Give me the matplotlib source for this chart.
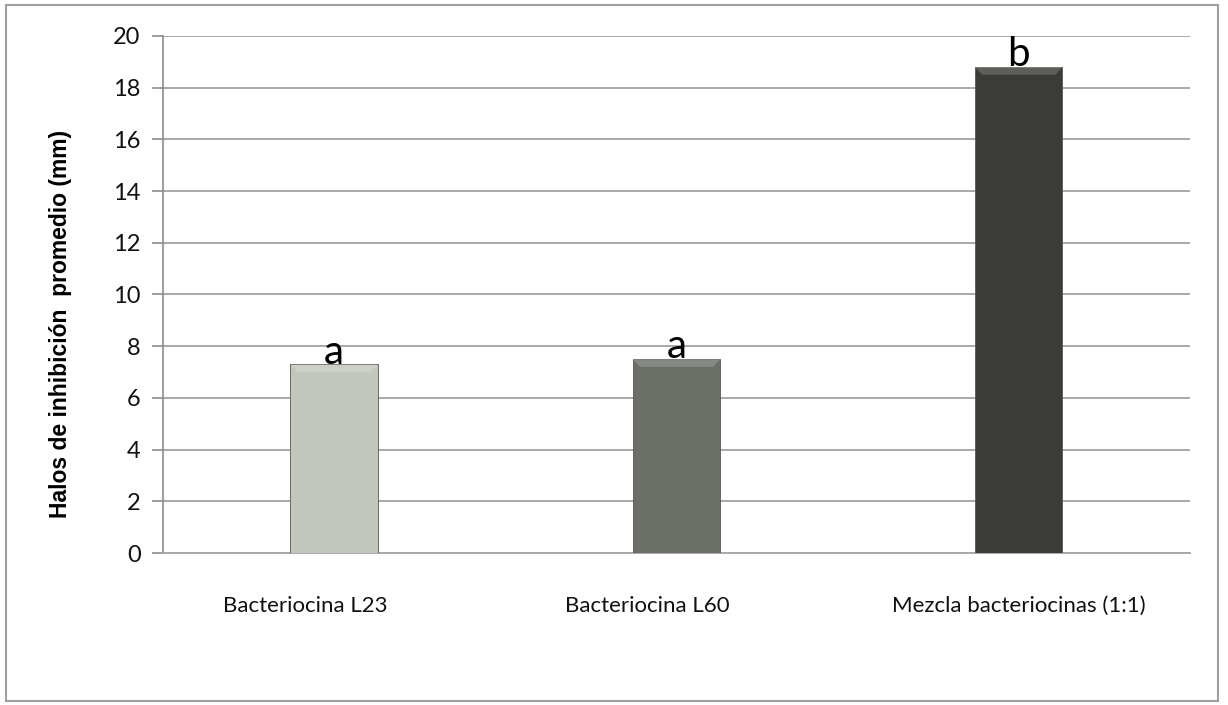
import matplotlib.pyplot as plt
from matplotlib.patches import Rectangle, Polygon
from matplotlib.transforms import ScaledTranslation

categories = ["Bacteriocina L23", "Bacteriocina L60", "Mezcla bacteriocinas (1:1)"]
halos = [7.3, 7.5, 18.8]
letters = ["a", "a", "b"]
bar_colors = ["#c3c6bc", "#6c6f68", "#3b3c38"]
yticks = list(range(0, 21, 2))

fig = plt.figure(figsize=(12.28, 7.05), dpi=100)
ax = fig.add_axes([0.1327, 0.2156, 0.8363, 0.7334])

x = list(range(len(categories)))
width = 0.255
bars = ax.bar(x, halos, width=width, color=bar_colors, edgecolor="#55574f",
              linewidth=0.6, zorder=3)

# soft bevel along the top of each bar
for rect in bars:
    x0, w, h = rect.get_x(), rect.get_width(), rect.get_height()
    d = 0.08 * w
    dh = 0.3
    top = Polygon([(x0, h), (x0 + w, h), (x0 + w - d, h - dh), (x0 + d, h - dh)],
                  closed=True, facecolor="white", alpha=0.18, edgecolor="none", zorder=4)
    ax.add_patch(top)

for xi, v, lab in zip(x, halos, letters):
    ax.text(xi, v + 0.03, lab, ha="center", va="baseline", fontsize=29,
            family="Lato", color="black", zorder=5)

ax.set_xlim(-0.5, 2.5)
ax.set_ylim(0, 20)
ax.set_yticks(yticks)
ax.set_yticklabels([str(t) for t in yticks], family="Lato", fontsize=17, color="#111111")
ax.set_xticks(x)
ax.set_xticklabels(categories, family="Lato", fontsize=16, color="#111111")
ax.tick_params(axis="x", length=0, pad=31)
ax.tick_params(axis="y", length=8, width=1.2, color="#8c8c8c", pad=8)

# the two single-bacteriocin labels sit a little left of their bars
for lbl in ax.get_xticklabels()[:2]:
    lbl.set_transform(lbl.get_transform() + ScaledTranslation(-0.29, 0, fig.dpi_scale_trans))

ax.grid(axis="y", color="#a8a8a8", linewidth=1.4, zorder=0)
ax.set_axisbelow(True)
for s in ["top", "right"]:
    ax.spines[s].set_visible(False)
ax.spines["left"].set_color("#8c8c8c")
ax.spines["left"].set_linewidth(1.2)
ax.spines["bottom"].set_color("#a8a8a8")
ax.spines["bottom"].set_linewidth(1.4)

ax.set_ylabel("Halos de inhibición  promedio (mm)", family="Liberation Sans",
              fontweight="bold", fontsize=16.5)
ax.yaxis.set_label_coords(-0.089, 0.443)

# outer chart frame
fig.patches.append(Rectangle((6 / 1228, 1 - 701 / 705), 1212 / 1228, 696 / 705,
                             transform=fig.transFigure, fill=False,
                             edgecolor="#a0a0a0", linewidth=1.5))

fig.savefig("out.png", dpi=100)
